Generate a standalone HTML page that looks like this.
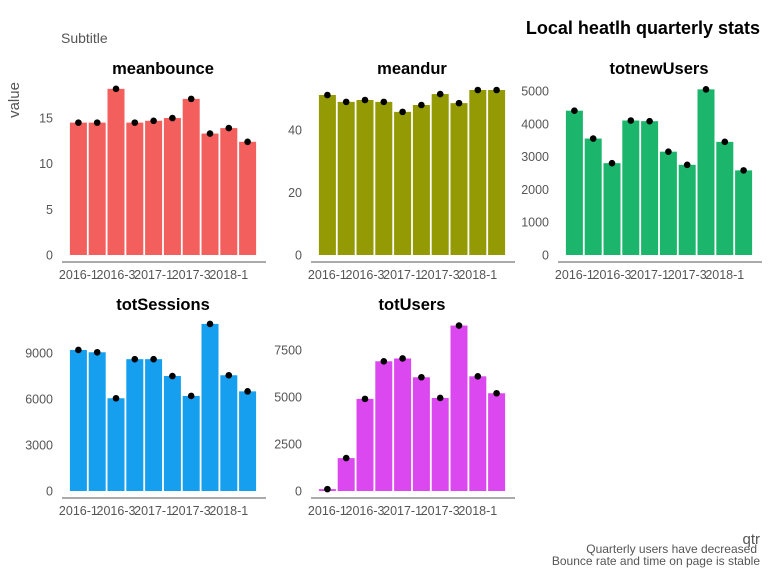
<!DOCTYPE html>
<html><head><meta charset="utf-8"><style>
body{margin:0;background:#fff;width:768px;height:576px;overflow:hidden}
svg{font-family:"Liberation Sans",Arial,sans-serif}
</style></head><body>
<svg id="c" width="768" height="576">
<text x="760" y="34" text-anchor="end" font-size="18" font-weight="bold" fill="#000">Local heatlh quarterly stats</text>
<text x="61" y="43" font-size="14" fill="#555">Subtitle</text>
<text transform="translate(19,100) rotate(-90)" text-anchor="middle" font-size="15" fill="#555">value</text>
<text x="760" y="544" text-anchor="end" font-size="15" fill="#555">qtr</text>
<text x="757" y="553" text-anchor="end" font-size="12" fill="#555">Quarterly users have decreased</text>
<text x="760" y="565" text-anchor="end" font-size="12" fill="#555">Bounce rate and time on page is stable</text>
</svg>
<script>
const categories=["2016-1","2016-2","2016-3","2016-4","2017-1","2017-2","2017-3","2017-4","2018-1","2018-2"];
const tickLabels=["2016-1","2016-3","2017-1","2017-3","2018-1"];
const meanbounce=[14.5,14.5,18.2,14.5,14.7,15.0,17.1,13.3,13.9,12.4];
const meandur=[51.2,49.0,49.6,49.0,45.8,48.0,51.5,48.6,52.8,52.8];
const totnewUsers=[4400,3550,2800,4100,4080,3150,2750,5050,3450,2580];
const totSessions=[9200,9050,6050,8600,8600,7500,6200,10900,7550,6500];
const totUsers=[100,1750,4900,6900,7050,6050,4950,8800,6100,5200];
const ticksBounce=[0,5,10,15];
const ticksDur=[0,20,40];
const ticksNew=[0,1000,2000,3000,4000,5000];
const ticksSess=[0,3000,6000,9000];
const ticksUsers=[0,2500,5000,7500];
const NS="http://www.w3.org/2000/svg";
const svg=document.getElementById('c');
function mk(t,a){const e=document.createElementNS(NS,t);for(const k in a)e.setAttribute(k,a[k]);svg.appendChild(e);return e;}
const panels=[
 {name:"meanbounce",vals:meanbounce,ticks:ticksBounce,x0:69,y0:255,ppu:9.13,axisY:262},
 {name:"meandur",vals:meandur,ticks:ticksDur,x0:318,y0:255,ppu:3.125,axisY:262},
 {name:"totnewUsers",vals:totnewUsers,ticks:ticksNew,x0:565,y0:255,ppu:0.0328,axisY:262},
 {name:"totSessions",vals:totSessions,ticks:ticksSess,x0:69,y0:491,ppu:0.01533,axisY:498},
 {name:"totUsers",vals:totUsers,ticks:ticksUsers,x0:318,y0:491,ppu:0.0188,axisY:498}
];
const colors={meanbounce:"#F35F5C",meandur:"#949A04",totnewUsers:"#1BB66C",totSessions:"#169FEF",totUsers:"#DC48EF"};
const band=18.8, bw=17;
panels.forEach(p=>{
  const xs=i=>p.x0+(i+0.5)*band;
  const ys=v=>p.y0-v*p.ppu;
  const cx=p.x0+5*band;
  let t=mk('text',{x:cx,y:p.y0-181,'text-anchor':'middle','font-size':16.5,'font-weight':'bold',fill:'#000'});
  t.textContent=p.name;
  
  
  p.ticks.forEach(v=>{
    const e=mk('text',{x:p.x0-16,y:ys(v)+4.5,'text-anchor':'end','font-size':12.5,fill:'#555'});
    e.textContent=v;
    
    
  });
  p.vals.forEach((v,i)=>{
    const r=mk('rect',{x:xs(i)-bw/2,y:ys(v),width:bw,height:v*p.ppu,fill:colors[p.name]});
    
    
  });
  p.vals.forEach((v,i)=>{
    const c=mk('circle',{cx:xs(i),cy:ys(v),r:3.3,fill:'#000'});
    
    
  });
  const l=mk('line',{x1:p.x0-7,x2:p.x0+10*band+9,y1:p.axisY,y2:p.axisY,stroke:'#777','stroke-width':1.3});
  
  
  tickLabels.forEach(lab=>{
    const i=categories.indexOf(lab);
    const e=mk('text',{x:xs(i),y:p.axisY+17,'text-anchor':'middle','font-size':12.5,fill:'#555'});
    e.textContent=lab;
    
    
  });
});
</script>
</body></html>
